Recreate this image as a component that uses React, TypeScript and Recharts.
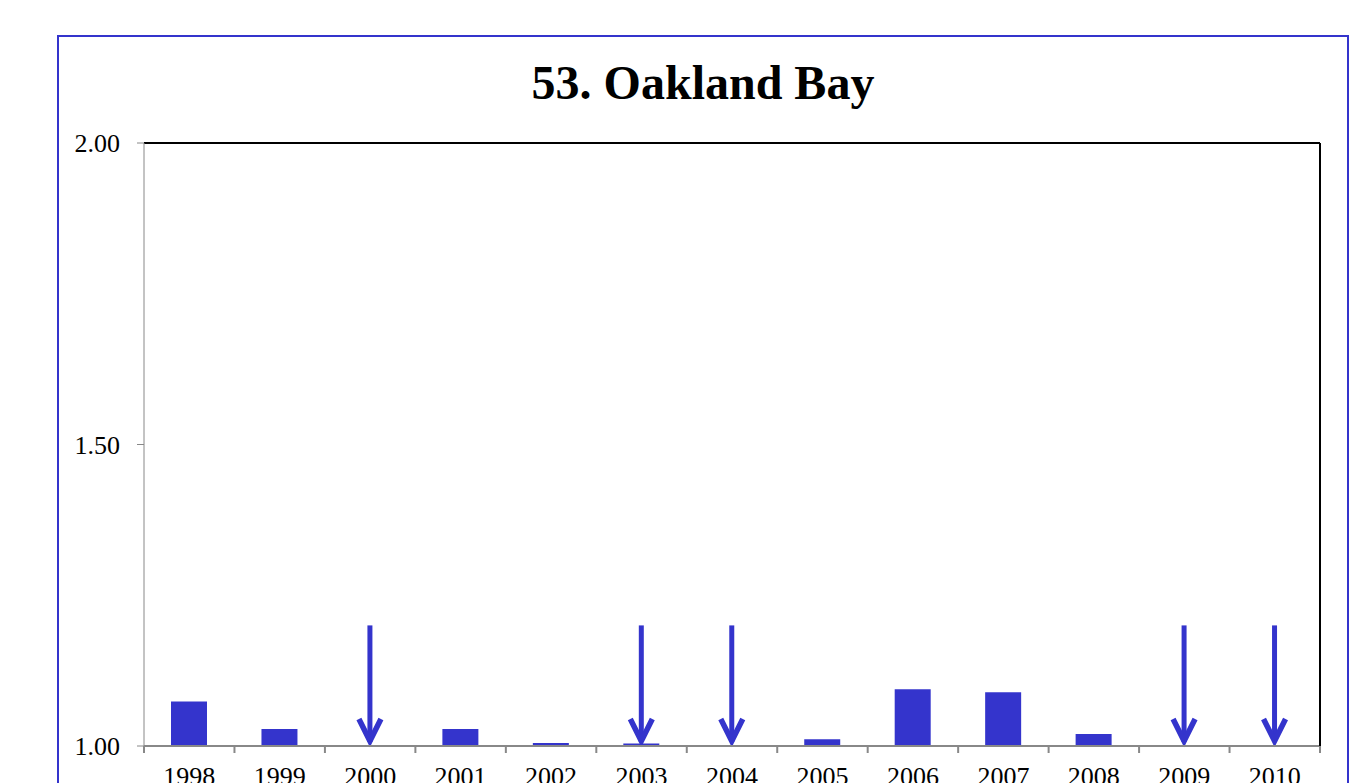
import { ComposedChart, Bar, XAxis, YAxis, CartesianGrid, ReferenceLine, Rectangle } from 'recharts';

const years = ['1998', '1999', '2000', '2001', '2002', '2003', '2004', '2005', '2006', '2007', '2008', '2009', '2010'];
const values: (number | null)[] = [1.074, 1.028, null, 1.028, 1.005, 1.004, null, 1.011, 1.094, 1.089, 1.02, null, null];
// years marked with an arrow, arrow tail height on the value axis
const arrowYears = ['2000', '2003', '2004', '2009', '2010'];
const arrowTop = 1.2;
const yTicks = [1, 1.5, 2];
const Y_MIN = 1;

const BLUE = '#3434CC';
const CHART_W = 1288;
const MARGIN = { top: 106, right: 26, left: 0, bottom: 31 };
const Y_AXIS_W = 85;
const PLOT_W = CHART_W - MARGIN.left - MARGIN.right - Y_AXIS_W - 1;
const BAND = PLOT_W / years.length;
const TICK_MARGIN = 21;

const data = years.map((year, i) => ({
  year,
  value: values[i],
  arrow: arrowYears.includes(year) ? arrowTop : null,
}));

// draws the bar, and the arrow on top of it where the year is marked
const Mark = (props: any) => {
  const { x, y, width, height, payload } = props;
  if (height == null || height <= 0) return null;
  if (payload.arrow == null) {
    return <Rectangle x={x} y={y} width={width} height={height} fill={BLUE} />;
  }
  const base = y + height;
  const barH = payload.value != null ? (height * (payload.value - Y_MIN)) / (payload.arrow - Y_MIN) : 0;
  const cx = x + width / 2;
  const tip = base - 4;
  return (
    <g>
      {barH > 0 && <Rectangle x={x} y={base - barH} width={width} height={barH} fill={BLUE} />}
      <line x1={cx} y1={y} x2={cx} y2={tip} stroke={BLUE} strokeWidth={5} />
      <path
        d={`M${cx - 11},${tip - 23} L${cx},${tip - 1} L${cx + 11},${tip - 23}`}
        fill="none"
        stroke={BLUE}
        strokeWidth={5.5}
        strokeLinejoin="miter"
      />
    </g>
  );
};

// year label plus the tick marks that sit between categories
const YearTick = (props: any) => {
  const { x, y, payload, index } = props;
  const axisY = y - TICK_MARGIN;
  const left = x - BAND / 2;
  return (
    <g>
      <line x1={left} y1={axisY} x2={left} y2={axisY + 7} stroke="#888" strokeWidth={2} />
      {index === years.length - 1 && (
        <line x1={left + BAND} y1={axisY} x2={left + BAND} y2={axisY + 7} stroke="#888" strokeWidth={2} />
      )}
      <text x={x} y={y} dy="0.71em" textAnchor="middle" fill="#000" fontSize={26}>
        {payload.value}
      </text>
    </g>
  );
};

export default function App() {
  return (
    <div style={{ position: 'fixed', inset: 0, overflow: 'hidden', background: '#fff' }}>
      <div
        style={{
          position: 'absolute',
          left: 57,
          top: 35,
          width: CHART_W,
          height: 800,
          border: `2px solid ${BLUE}`,
          fontFamily: '"Liberation Serif", "Times New Roman", serif',
        }}
      >
        <div
          style={{
            position: 'absolute',
            top: 22,
            left: 0,
            width: '100%',
            textAlign: 'center',
            fontSize: 48,
            lineHeight: '48px',
            fontWeight: 'bold',
            color: '#000',
          }}
        >
          53. Oakland Bay
        </div>
        <ComposedChart
          width={CHART_W}
          height={800}
          data={data}
          margin={MARGIN}
          style={{ fontFamily: '"Liberation Serif", "Times New Roman", serif' }}
        >
          <CartesianGrid vertical={false} stroke="#888" />
          <XAxis
            dataKey="year"
            axisLine={{ stroke: '#888', strokeWidth: 2 }}
            tickLine={false}
            tickSize={0}
            tickMargin={TICK_MARGIN}
            tick={<YearTick />}
            interval={0}
            height={60}
          />
          <YAxis
            yAxisId="left"
            domain={[Y_MIN, 2]}
            ticks={yTicks}
            tickFormatter={(v: number) => v.toFixed(2)}
            stroke="#888"
            tickSize={7}
            tickMargin={17}
            tick={{ fill: '#000', fontSize: 26 }}
            width={Y_AXIS_W}
          />
          <YAxis
            yAxisId="right"
            orientation="right"
            domain={[Y_MIN, 2]}
            ticks={yTicks}
            tick={false}
            tickLine={false}
            axisLine={{ stroke: '#000', strokeWidth: 2 }}
            width={1}
          />
          <ReferenceLine yAxisId="left" y={2} stroke="#000" strokeWidth={2} />
          <Bar
            yAxisId="left"
            dataKey={(d: any) => d.arrow ?? d.value}
            barSize={36}
            shape={<Mark />}
            isAnimationActive={false}
          />
        </ComposedChart>
      </div>
    </div>
  );
}
